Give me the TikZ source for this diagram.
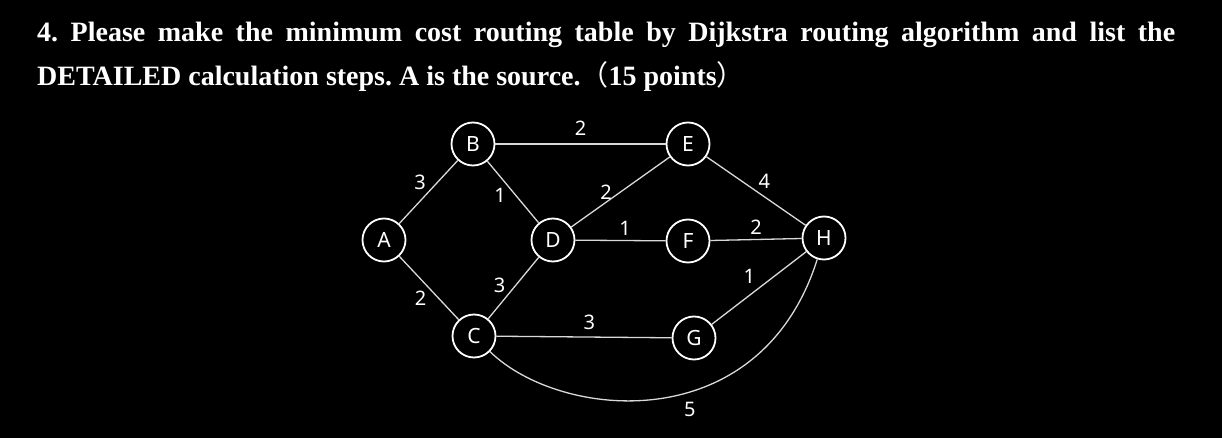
\documentclass[tikz,border=0pt]{standalone}
\usepackage{fontspec}
\setmainfont{Liberation Serif}
\newfontfamily\graphfont{Noto Sans}
\newfontfamily\cjkfont{Noto Sans CJK SC}
\usetikzlibrary{positioning}

\begin{document}
\begin{tikzpicture}[
  x=1pt, y=-1pt,
  font=\graphfont\fontsize{21}{24}\selectfont,
  router/.style={draw=white, circle, line width=1.8pt, minimum size=43pt,
    inner sep=0pt, text=white},
  link/.style={draw=white!85!black, line width=1.3pt},
  cost/.style={text=white, font=\graphfont\fontsize{20}{22}\selectfont, inner sep=2pt}
]
  \path[use as bounding box, fill=black] (0,0) rectangle (1222,438);

  % question text
  \node[anchor=base west, inner sep=0pt, text width=1138pt, align=justify,
        text=white, font=\rmfamily\bfseries\fontsize{28}{44}\selectfont\frenchspacing] (title) at (37,42)
    {4. Please make the minimum cost routing table by Dijkstra routing algorithm and list the\linebreak
     DETAILED calculation steps. A is the source.{\cjkfont\mdseries （}15 points{\cjkfont\mdseries ）}};

  % routers
  \node[router] (A) at (384,240) {A};
  \node[router] (B) at (473,144) {B};
  \node[router] (C) at (474,336) {C};
  \node[router] (D) at (553,240) {D};
  \node[router] (E) at (688,144) {E};
  \node[router] (F) at (688,241) {F};
  \node[router] (G) at (694,338) {G};
  \node[router] (H) at (824,238) {H};

  % links and costs
  \draw[link] (A) -- node[cost, above left] {3} (B);
  \draw[link] (A) -- node[cost, below left] {2} (C);
  \draw[link] (B) -- node[cost, pos=0.55, left=7pt] {1} (D);
  \draw[link] (C) -- node[cost, pos=0.55, left=8pt] {3} (D);
  \draw[link] (B) -- node[cost, above=6pt] {2} (E);
  \draw[link] (D) -- node[cost, left=6pt] {2} (E);
  \draw[link] (D) -- node[cost, pos=0.55, above=2pt] {1} (F);
  \draw[link] (C) -- node[cost, pos=0.53, above=5pt] {3} (G);
  \draw[link] (E) -- node[cost, above right] {4} (H);
  \draw[link] (F) -- node[cost, above=2pt] {2} (H);
  \draw[link] (G) -- node[cost, above left=2pt] {1} (H);
  \draw[link] (C) .. controls (560,420) and (760,440) .. node[cost, pos=0.58, below=7pt] {5} (H);
\end{tikzpicture}
\end{document}
